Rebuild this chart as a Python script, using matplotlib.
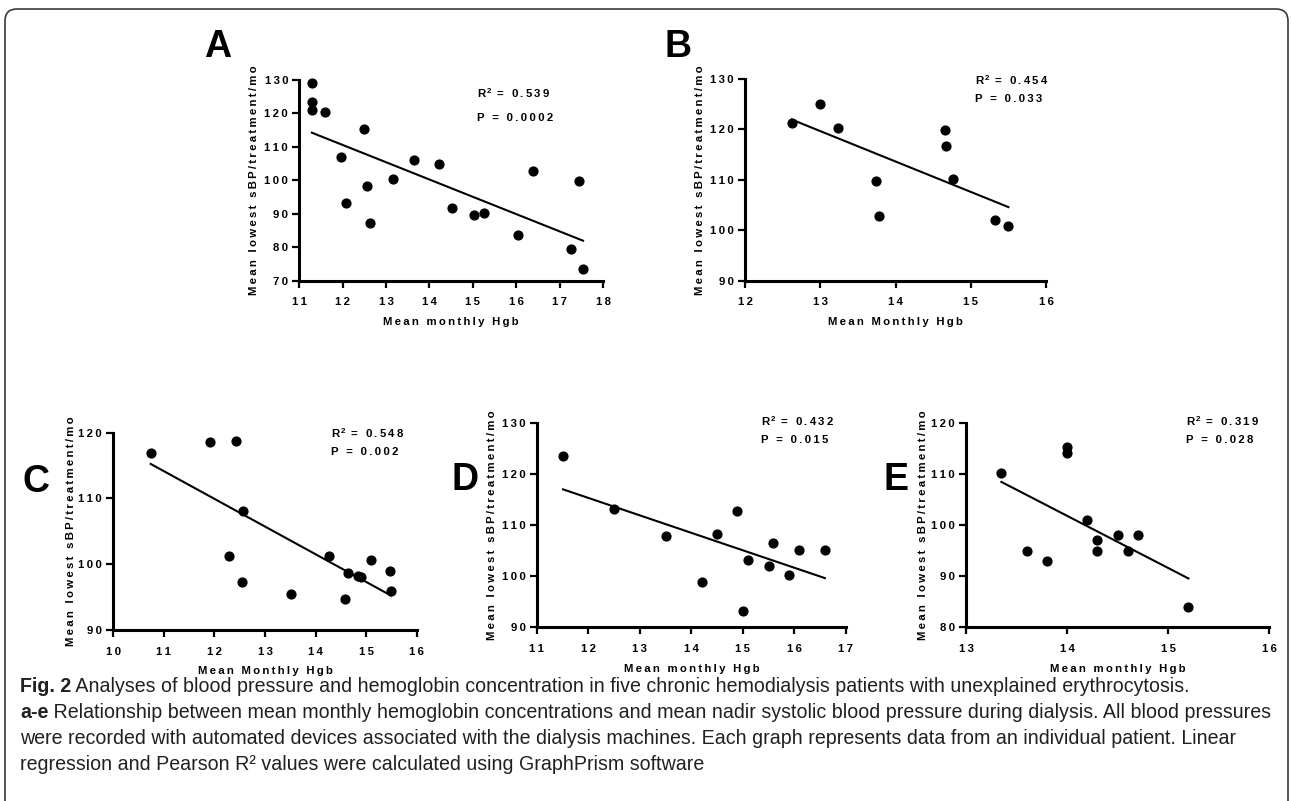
import numpy as np
import matplotlib
matplotlib.use('Agg')
import matplotlib.pyplot as plt
from matplotlib.ticker import FuncFormatter, MultipleLocator
from matplotlib.patches import FancyBboxPatch

plt.rcParams['font.family'] = ['Liberation Sans', 'DejaVu Sans']
plt.rcParams['mathtext.fontset'] = 'custom'
plt.rcParams['mathtext.rm'] = 'Liberation Sans:bold'
plt.rcParams['mathtext.it'] = 'Liberation Sans:bold'
plt.rcParams['mathtext.bf'] = 'Liberation Sans:bold'

# panel A
hgbA = [11.29, 11.29, 11.29, 11.59, 11.95, 12.08, 12.48, 12.57, 12.62, 13.15, 13.65,
        14.23, 14.52, 15.02, 15.26, 16.04, 16.38, 17.26, 17.45, 17.54]
sbpA = [129.0, 123.4, 121.1, 120.3, 106.9, 93.3, 115.3, 98.3, 87.2, 100.4, 106.0,
        105.0, 91.8, 89.5, 90.2, 83.6, 102.9, 79.4, 99.8, 73.6]
# panel B
hgbB = [12.62, 13.0, 13.23, 13.74, 13.78, 14.66, 14.67, 14.76, 15.32, 15.5]
sbpB = [121.3, 125.0, 120.2, 109.8, 102.8, 119.8, 116.8, 110.2, 102.0, 100.8]
# panel C
hgbC = [10.74, 11.91, 12.42, 12.56, 12.29, 12.54, 13.52, 14.27, 14.64, 14.83, 14.9,
        15.09, 15.47, 15.49, 14.58]
sbpC = [116.85, 118.6, 118.8, 108.1, 101.3, 97.3, 95.5, 101.3, 98.6, 98.2, 98.1,
        100.6, 98.9, 96.0, 94.65]
# panel D
hgbD = [11.51, 12.5, 13.51, 14.2, 14.5, 14.89, 15.09, 15.5, 15.59, 15.89, 16.09, 16.59, 15.0]
sbpD = [123.4, 113.2, 107.8, 98.9, 108.3, 112.8, 103.1, 102.0, 106.5, 100.2, 105.1, 105.1, 93.25]
# panel E
hgbE = [13.35, 13.6, 13.8, 14.0, 14.0, 14.2, 14.3, 14.3, 14.5, 14.6, 14.7, 15.2]
sbpE = [110.1, 95.0, 93.0, 115.2, 114.1, 101.0, 97.1, 95.0, 98.0, 95.0, 98.0, 84.0]

panelLetters = ['A', 'B', 'C', 'D', 'E']
xLabels = ['Mean monthly Hgb', 'Mean Monthly Hgb', 'Mean Monthly Hgb', 'Mean monthly Hgb', 'Mean monthly Hgb']
yLabel = 'Mean lowest sBP/treatment/mo'
r2Texts = ['0.539', '0.454', '0.548', '0.432', '0.319']
pTexts = ['0.0002', '0.033', '0.002', '0.015', '0.028']

W, H = 1292, 801


def spaced(s):
    return '\u2009'.join(s)


def frac(box):
    # box in pixels: left, top, right, bottom
    l, t, r, b = box
    return [l / W, 1 - b / H, (r - l) / W, (b - t) / H]


fig = plt.figure(figsize=(W / 100, H / 100), dpi=100)

# rounded frame around the figure
bg = fig.add_axes([0, 0, 1, 1], zorder=-1)
bg.set_xlim(0, W)
bg.set_ylim(H, 0)
bg.axis('off')
bg.add_patch(FancyBboxPatch((5, 9), W - 9, H + 20, boxstyle='round,pad=0,rounding_size=12',
                            fc='none', ec='#3a3a3a', lw=1.2))

panels = [
    (hgbA, sbpA, (299.3, 80, 603, 280.7), (11, 18), (70, 130), 10, (15.1, 126.1, 118.6)),
    (hgbB, sbpB, (745, 79, 1046, 280.7), (12, 16), (90, 130), 10, (15.05, 129.8, 126.0)),
    (hgbC, sbpC, (113.3, 432.7, 416.7, 630), (10, 16), (90, 120), 10, (14.3, 119.9, 117.0)),
    (hgbD, sbpD, (536.7, 422.7, 846, 627.2), (11, 17), (90, 130), 10, (15.36, 130.4, 126.6)),
    (hgbE, sbpE, (966, 422.7, 1269.3, 627.3), (13, 16), (80, 120), 10, (15.18, 120.4, 116.6)),
]
letterPos = [(204, 57), (664, 57), (22, 492), (452, 490), (883, 490)]
ylabelX = [259, 705, 76, 497, 928]

for i, (xs, ys, box, xlim, ylim, ystep, tpos) in enumerate(panels):
    ax = fig.add_axes(frac(box))
    xs = np.array(xs)
    ys = np.array(ys)
    ax.scatter(xs, ys, s=40, color='black', zorder=3, clip_on=False)
    k, b0 = np.polyfit(xs, ys, 1)
    xx = np.array([xs.min(), xs.max()])
    ax.plot(xx, k * xx + b0, color='black', lw=1.5, zorder=2)

    ax.set_xlim(*xlim)
    ax.set_ylim(*ylim)
    ax.xaxis.set_major_locator(MultipleLocator(1))
    ax.yaxis.set_major_locator(MultipleLocator(ystep))
    fmt = FuncFormatter(lambda v, p: spaced('%g' % v))
    ax.xaxis.set_major_formatter(fmt)
    ax.yaxis.set_major_formatter(fmt)
    for s in ['top', 'right']:
        ax.spines[s].set_visible(False)
    for s in ['left', 'bottom']:
        ax.spines[s].set_linewidth(2.2)
    ax.tick_params(axis='both', direction='out', length=5, width=1.6,
                   labelsize=8.2)
    ax.tick_params(axis='x', pad=7)
    ax.tick_params(axis='y', pad=3)
    for lab in ax.get_xticklabels() + ax.get_yticklabels():
        lab.set_fontweight('bold')

    ax.set_xlabel(spaced(xLabels[i]), fontsize=8.2, fontweight='bold', labelpad=7)
    ax.set_ylabel(spaced(yLabel), fontsize=8.2, fontweight='bold')
    ax.yaxis.set_label_coords((ylabelX[i] - box[0]) / (box[2] - box[0]), 0.5)

    tx, ty1, ty2 = tpos
    ax.text(tx, ty1, r'$\mathrm{R}^{\,2}$' + spaced(' = ' + r2Texts[i]), fontsize=8.2,
            fontweight='bold', va='center', ha='left', clip_on=False)
    ax.text(tx, ty2, spaced('P = ' + pTexts[i]), fontsize=8.2,
            fontweight='bold', va='center', ha='left', clip_on=False)

    lx, ly = letterPos[i]
    fig.text(lx / W, 1 - ly / H, panelLetters[i], fontsize=27, fontweight='bold',
             ha='left', va='baseline')

# caption
capFont = ['Liberation Sans', 'DejaVu Sans']
capLines = [
    ('Fig. 2', ' Analyses of blood pressure and hemoglobin concentration in five chronic hemodialysis patients with unexplained erythrocytosis.'),
    ('a-e', ' Relationship between mean monthly hemoglobin concentrations and mean nadir systolic blood pressure during dialysis. All blood pressures'),
    ('', 'were recorded with automated devices associated with the dialysis machines. Each graph represents data from an individual patient. Linear'),
    ('', 'regression and Pearson R\u00b2 values were calculated using GraphPrism software'),
]
capY = [687, 712, 738, 764]
renderer = fig.canvas.get_renderer()
for (boldPart, rest), y in zip(capLines, capY):
    x0 = 20 / W
    if boldPart:
        t = fig.text(x0, 1 - y / H, boldPart, fontsize=14.1, fontweight='bold',
                     family=capFont, va='center', ha='left', color='#231f20')
        bb = t.get_window_extent(renderer)
        x0 = bb.x1 / W
    fig.text(x0, 1 - y / H, rest, fontsize=14.1, family=capFont, va='center',
             ha='left', color='#231f20')

fig.savefig('out.png', dpi=100)
